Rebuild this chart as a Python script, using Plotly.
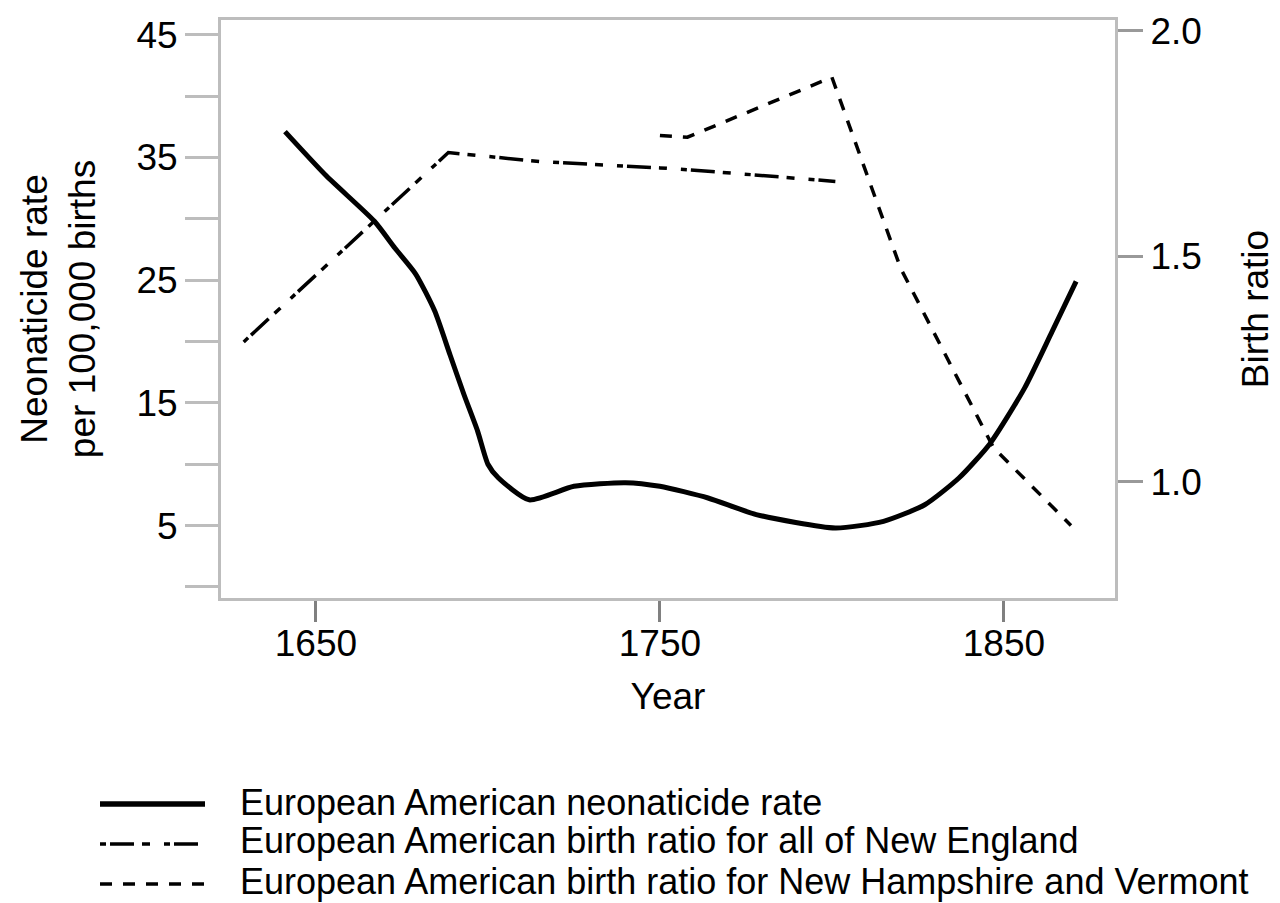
import plotly.graph_objects as go

# ---- data ----
rate_years = [1641, 1653, 1667, 1673, 1679, 1684.5, 1689, 1693, 1697, 1700, 1703,
              1712, 1725, 1740, 1750, 1764, 1778, 1801, 1815, 1827, 1837, 1846,
              1856, 1864, 1871]
rate_values = [37.1, 33.5, 29.8, 27.6, 25.5, 22.5, 18.9, 15.7, 12.7, 10.0, 8.9,
               7.1, 8.2, 8.5, 8.2, 7.25, 5.9, 4.8, 5.35, 6.7, 8.9, 11.7,
               16.2, 20.8, 24.9]

ne_years = [1629, 1688.5, 1715, 1750, 1765, 1801]
ne_ratio = [1.31, 1.73, 1.71, 1.696, 1.688, 1.666]

nhvt_years = [1750, 1758, 1800, 1820, 1847, 1869.5]
nhvt_ratio = [1.768, 1.764, 1.897, 1.473, 1.075, 0.903]

x_ticks = [1650, 1750, 1850]
left_tickvals = [0, 5, 10, 15, 20, 25, 30, 35, 40, 45]
left_ticktext = ["", "5", "", "15", "", "25", "", "35", "", "45"]
right_tickvals = [1.0, 1.5, 2.0]
right_ticktext = ["1.0", "1.5", "2.0"]

legend_labels = [
    "European American neonaticide rate",
    "European American birth ratio for all of New England",
    "European American birth ratio for New Hampshire and Vermont",
]

FONT = "Liberation Sans, Arial, Helvetica, sans-serif"
AXIS_GRAY = "#bdbdbd"
DASHDOT = "6px,4px,24px,8px,8px,14px"
DASHED = "12px,11px"

fig = go.Figure()
fig.add_trace(go.Scatter(x=rate_years, y=rate_values, mode="lines",
                         line=dict(color="black", width=5, shape="spline", smoothing=0.6),
                         name=legend_labels[0], showlegend=False))
fig.add_trace(go.Scatter(x=ne_years, y=ne_ratio, mode="lines", yaxis="y2",
                         line=dict(color="black", width=3.5, dash=DASHDOT),
                         name=legend_labels[1], showlegend=False))
fig.add_trace(go.Scatter(x=nhvt_years, y=nhvt_ratio, mode="lines", yaxis="y2",
                         line=dict(color="black", width=3.5, dash=DASHED),
                         name=legend_labels[2], showlegend=False))

W, H = 1280, 903
L, R, T, B = 213, 1107, 12, 590

def px_x(px):
    return (px - L) / (R - L)

def px_y(py):
    return (B - py) / (B - T)

# manual legend (long sample lines like the reference)
sample_y = [796, 836, 876]
text_y = [794, 833, 873]
dashes = ["solid", DASHDOT, DASHED]
widths = [5.5, 3.5, 3.5]
for i in range(3):
    fig.add_shape(type="line", xref="paper", yref="paper",
                  x0=px_x(92), x1=px_x(197), y0=px_y(sample_y[i]), y1=px_y(sample_y[i]),
                  line=dict(color="black", width=widths[i], dash=dashes[i]))
    fig.add_annotation(xref="paper", yref="paper", x=px_x(230), y=px_y(text_y[i]),
                       text=legend_labels[i], showarrow=False, xanchor="left", yanchor="middle",
                       font=dict(family=FONT, size=36, color="black"))

fig.update_layout(
    width=W, height=H,
    margin=dict(l=L, r=W - R, t=T, b=H - B, autoexpand=False),
    paper_bgcolor="white", plot_bgcolor="white",
    font=dict(family=FONT, size=36, color="black"),
    showlegend=False,
    xaxis=dict(range=[1622.4, 1882.3], tickvals=x_ticks, ticktext=[str(v) for v in x_ticks],
               ticks="outside", ticklen=21, tickwidth=2.5, tickcolor="#808080",
               ticklabelstandoff=-10,
               showline=True, linecolor=AXIS_GRAY, linewidth=3, mirror=True,
               showgrid=False, zeroline=False,
               tickfont=dict(family=FONT, size=37, color="black"),
               title=dict(text="Year", font=dict(family=FONT, size=37, color="black"), standoff=20)),
    yaxis=dict(range=[-0.9, 46.2], tickvals=left_tickvals, ticktext=left_ticktext,
               ticks="outside", ticklen=33, tickwidth=3, tickcolor=AXIS_GRAY,
               showline=True, linecolor=AXIS_GRAY, linewidth=3,
               showgrid=False, zeroline=False,
               tickfont=dict(family=FONT, size=37, color="black"),
               title=dict(text="Neonaticide rate<br>per 100,000 births",
                          font=dict(family=FONT, size=37, color="black"), standoff=30)),
    yaxis2=dict(range=[0.742, 2.024], overlaying="y", side="right",
                tickvals=right_tickvals, ticktext=right_ticktext,
                ticks="outside", ticklen=25, tickwidth=2.5, tickcolor="#999999",
                showline=True, linecolor=AXIS_GRAY, linewidth=3,
                showgrid=False, zeroline=False,
                tickfont=dict(family=FONT, size=37, color="black"),
                title=dict(text="Birth ratio", font=dict(family=FONT, size=37, color="black"), standoff=42)),
)

fig.write_html("out.html")
